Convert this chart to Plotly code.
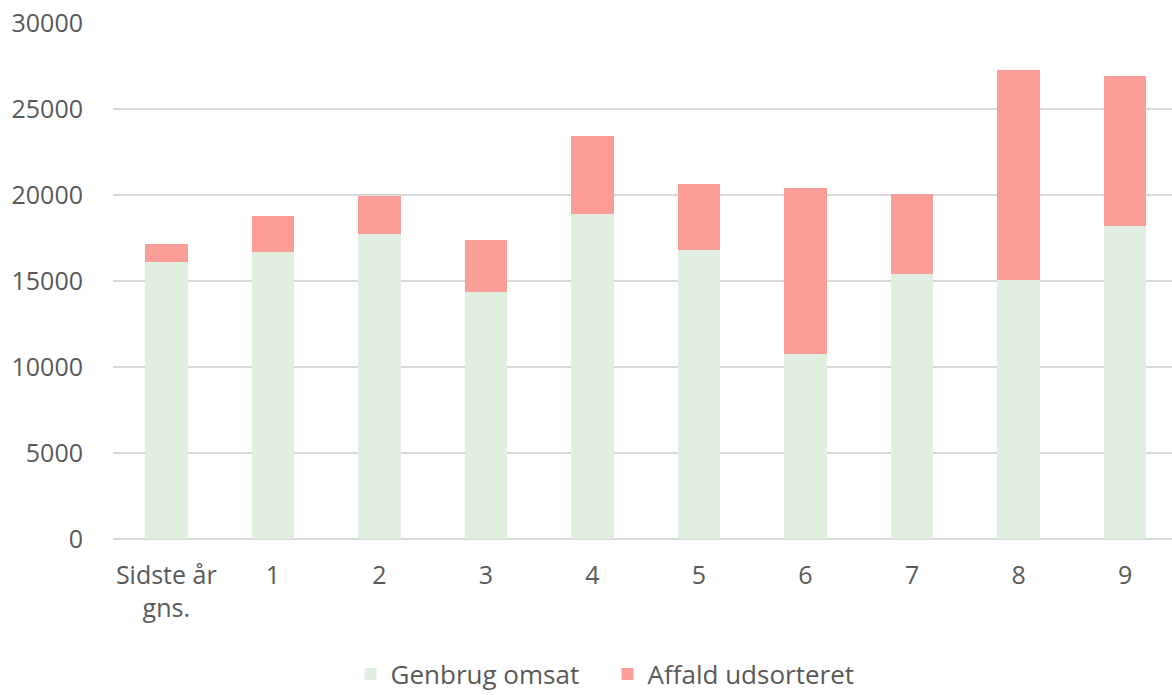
import plotly.graph_objects as go

categories = ["Sidste år<br>gns.", "1", "2", "3", "4", "5", "6", "7", "8", "9"]
genbrug_omsat = [16090, 16670, 17720, 14340, 18880, 16790, 10740, 15390, 15060, 18180]
totals = [17130, 18760, 19920, 17370, 23430, 20620, 20390, 20040, 27270, 26920]
affald_udsorteret = [t - g for t, g in zip(totals, genbrug_omsat)]
y_ticks = [0, 5000, 10000, 15000, 20000, 25000, 30000]

GREEN = "#E1EFE1"
RED = "#FB9E97"
TEXT = "#595959"
FONT = "Open Sans"
FS = 25

fig = go.Figure()
fig.add_trace(go.Bar(x=categories, y=genbrug_omsat, name="Genbrug omsat",
                     marker=dict(color=GREEN, line=dict(width=0))))
fig.add_trace(go.Bar(x=categories, y=affald_udsorteret, name="Affald udsorteret",
                     marker=dict(color=RED, line=dict(width=0))))

fig.update_layout(
    barmode="stack",
    bargap=0.6,
    width=1172, height=695,
    margin=dict(l=113, r=0, t=23, b=156, autoexpand=False),
    paper_bgcolor="white", plot_bgcolor="white",
    font=dict(family=FONT, size=FS, color=TEXT),
    showlegend=True,
    legend=dict(orientation="h", x=0.467, xanchor="center", y=-0.262, yanchor="middle",
                font=dict(family=FONT, size=26, color=TEXT), itemwidth=30,
                entrywidth=212, entrywidthmode="pixels",
                tracegroupgap=0, traceorder="normal"),
    xaxis=dict(range=[-0.5, 9.44], showgrid=False, zeroline=False, showline=False,
               ticks="", tickfont=dict(family=FONT, size=FS, color=TEXT),
               ticklabelstandoff=19, automargin=False),
    yaxis=dict(range=[0, 30000], tickvals=y_ticks, ticktext=[str(v) for v in y_ticks],
               showgrid=True, gridcolor="#D9D9D9", gridwidth=1.5, zeroline=True,
               zerolinecolor="#D9D9D9", zerolinewidth=1.5, showline=False, ticks="",
               tickfont=dict(family=FONT, size=FS, color=TEXT),
               ticklabelstandoff=29, automargin=False),
)

fig.write_html("out.html", config={"displayModeBar": False},
               post_script="document.body.style.margin='0';document.body.style.padding='0';")
